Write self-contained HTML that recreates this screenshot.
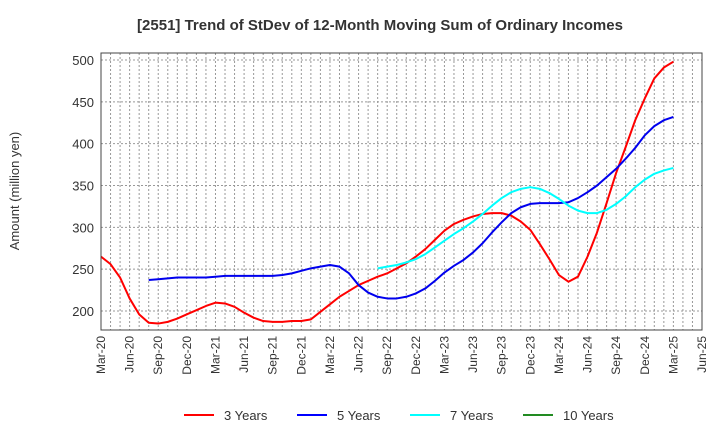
<!DOCTYPE html>
<html><head><meta charset="utf-8"><style>body{margin:0;background:#fff}svg{display:block;font-family:"Liberation Sans",Arial,sans-serif}</style></head>
<body>
<svg id="chart" width="720" height="440" xmlns="http://www.w3.org/2000/svg">
<text x="380" y="30" text-anchor="middle" font-size="15" font-weight="bold" fill="#333">[2551]  Trend of StDev of 12-Month Moving Sum of Ordinary Incomes</text>
<text transform="translate(19,191) rotate(-90)" text-anchor="middle" font-size="13" fill="#333">Amount (million yen)</text>
<g id="grid"></g><g id="series"></g><g id="axes"></g><g id="legend"></g>
</svg>
<script>
const yTicks=[200,250,300,350,400,450,500];
const xTickLabels=["Mar-20","Jun-20","Sep-20","Dec-20","Mar-21","Jun-21","Sep-21","Dec-21","Mar-22","Jun-22","Sep-22","Dec-22","Mar-23","Jun-23","Sep-23","Dec-23","Mar-24","Jun-24","Sep-24","Dec-24","Mar-25","Jun-25"];
const seriesNames=["3 Years","5 Years","7 Years","10 Years"];
const red=[265,256,240,215,196,186,185,187,191,196,201,206,210,209,205,198,192,188,187,187,188,188,190,199,208,217,224,231,236,241,245,251,257,265,274,285,296,304,309,313,316,317,317,314,307,297,280,262,243,235,241,265,294,329,365,396,428,454,478,491,498];
const blueStart=5;
const blue=[237,238,239,240,240,240,240,241,242,242,242,242,242,242,243,245,248,251,253,255,253,245,231,222,217,215,215,217,221,227,236,246,254,261,270,281,294,306,317,324,328,329,329,329,330,335,342,350,360,370,382,395,410,421,428,432];
const cyanStart=29;
const cyan=[251,253,255,258,262,268,276,284,292,299,307,316,326,335,342,346,348,346,341,334,326,320,317,317,321,328,337,348,357,364,368,371];
const green=[];
const NS="http://www.w3.org/2000/svg";
const L=101,R=702,T=53,B=330,months=63;
const xs=m=>L+m*(R-L)/months;
const ys=v=>311-(v-200)*(311-60)/300;
function mk(tag,at,par){const e=document.createElementNS(NS,tag);for(const k in at)e.setAttribute(k,at[k]);par.appendChild(e);return e;}
const grid=document.getElementById('grid'),axes=document.getElementById('axes'),ser=document.getElementById('series'),leg=document.getElementById('legend');
for(let m=1;m<months;m++){const l=mk('line',{x1:xs(m),x2:xs(m),y1:T,y2:B,stroke:'#999','stroke-dasharray':'2,2','stroke-width':1},grid);

}
yTicks.forEach(v=>{const l=mk('line',{x1:L,x2:R,y1:ys(v),y2:ys(v),stroke:'#999','stroke-dasharray':'2,2'},grid);


const t=mk('text',{x:L-7,y:ys(v)+5,'text-anchor':'end','font-size':13,fill:'#333'},axes);t.textContent=v;

});
const fr=mk('rect',{x:L,y:T,width:R-L,height:B-T,fill:'none',stroke:'#444','stroke-width':1},axes);


xTickLabels.forEach((s,i)=>{const x=xs(i*3);const t=mk('text',{transform:`translate(${x+4},336) rotate(-90)`,'text-anchor':'end','font-size':12,fill:'#333'},axes);t.textContent=s;

});
function line(arr,start,color,name){if(!arr.length)return;const p=mk('polyline',{points:arr.map((v,i)=>xs(start+i)+','+ys(v)).join(' '),fill:'none',stroke:color,'stroke-width':2,'stroke-linejoin':'round'},ser);

}
line(red,0,'#ff0000','line-3-years');
line(blue,blueStart,'#0000ee','line-5-years');
line(cyan,cyanStart,'#00ffff','line-7-years');
line(green,0,'#228b22','line-10-years');
const cols=['#ff0000','#0000ff','#00ffff','#228b22'];
seriesNames.forEach((n,i)=>{const x=184+i*113;const g=mk('g',{},leg);


mk('line',{x1:x,x2:x+30,y1:415,y2:415,stroke:cols[i],'stroke-width':2},g);
const t=mk('text',{x:x+40,y:420,'font-size':13,fill:'#333'},g);t.textContent=n;});
</script>
</body></html>
